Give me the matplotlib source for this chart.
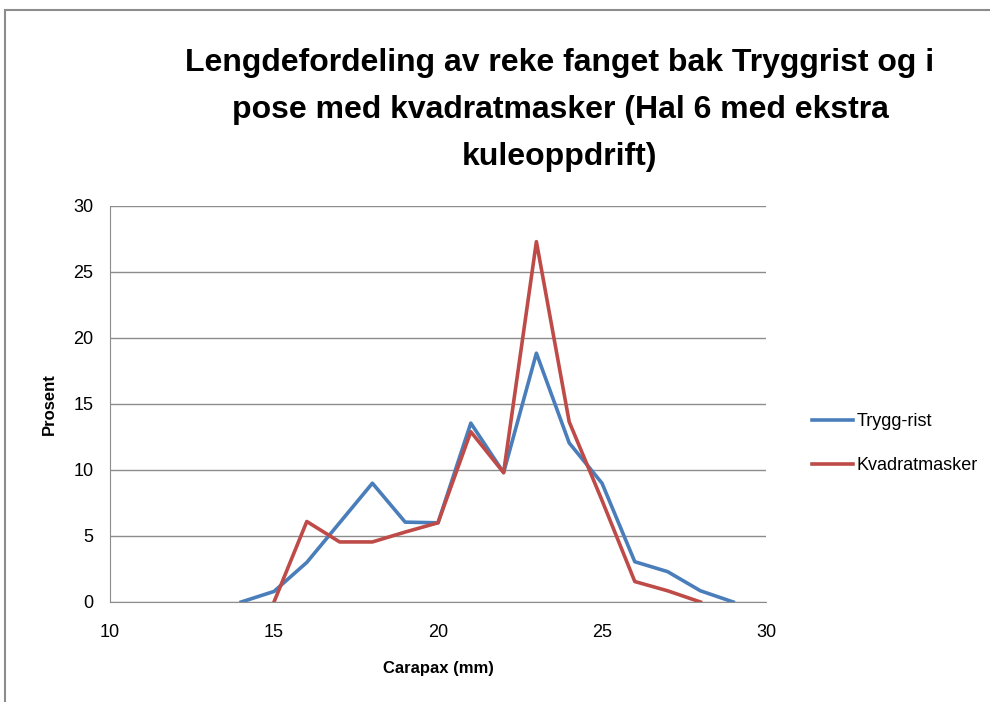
import matplotlib
matplotlib.use("Agg")
import matplotlib.pyplot as plt
from matplotlib.patches import Rectangle

# Lengdefordeling, prosent per carapax-lengde (mm)
trygg_x = [14, 15, 16, 17, 18, 19, 20, 21, 22, 23, 24, 25, 26, 27, 28, 29]
trygg_y = [0.0, 0.8, 3.0, 6.0, 9.0, 6.05, 6.0, 13.55, 9.8, 18.85, 12.05, 9.0, 3.05, 2.3, 0.85, 0.0]

kvadrat_x = [15, 16, 17, 18, 19, 20, 21, 22, 23, 24, 25, 26, 27, 28]
kvadrat_y = [0.0, 6.1, 4.55, 4.55, 5.3, 6.0, 12.9, 9.8, 27.3, 13.65, 7.7, 1.55, 0.85, 0.0]

title = "Lengdefordeling av reke fanget bak Tryggrist og i\npose med kvadratmasker (Hal 6 med ekstra\nkuleoppdrift)"

plt.rcParams["font.family"] = ["Liberation Sans", "DejaVu Sans"]

fig = plt.figure(figsize=(9.9, 7.02), dpi=100)
fig.patches.append(Rectangle((5 / 990, -0.1), 1.2, (702 - 10) / 702 + 0.1,
                             transform=fig.transFigure, fill=False,
                             edgecolor="#8c8c8c", linewidth=1.5))

ax = fig.add_axes([110 / 990, 100 / 702, 656 / 990, 396 / 702])
ax.plot(trygg_x, trygg_y, color="#4A7EBB", linewidth=2.6, label="Trygg-rist")
ax.plot(kvadrat_x, kvadrat_y, color="#BE4B48", linewidth=2.6, label="Kvadratmasker")

ax.set_xlim(10, 30)
ax.set_ylim(0, 30)
ax.set_xticks(range(10, 31, 5))
ax.set_yticks(range(0, 31, 5))
ax.tick_params(labelsize=13, length=0)
ax.tick_params(axis="x", pad=16)
ax.tick_params(axis="y", pad=12)
ax.grid(axis="y", color="#8c8c8c", linewidth=1)
ax.set_axisbelow(True)
for side in ["top", "right"]:
    ax.spines[side].set_visible(False)
for side in ["left", "bottom"]:
    ax.spines[side].set_color("#8c8c8c")

ax.set_xlabel("Carapax (mm)", fontsize=12, fontweight="bold", labelpad=14)
ax.set_ylabel("Prosent", fontsize=12, fontweight="bold", labelpad=12)

fig.text(560 / 990, 1 - 110 / 702, title, ha="center", va="center",
         fontsize=23, fontweight="bold", linespacing=1.75)

ax.legend(loc="center left", bbox_to_anchor=(1.045, 0.40), frameon=False,
          fontsize=13, handlelength=2.3, handletextpad=0.2, labelspacing=1.5)

fig.savefig("out.png", dpi=100)
